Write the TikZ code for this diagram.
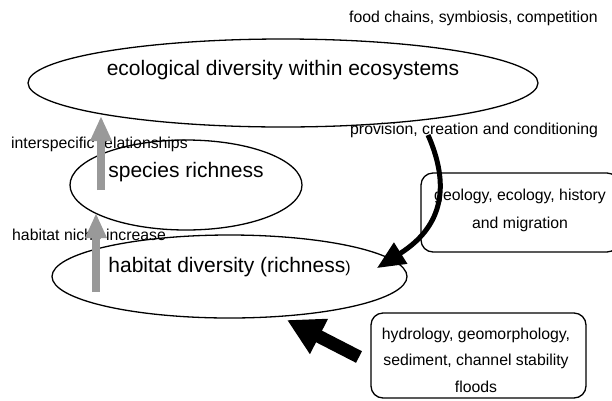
\documentclass[tikz,border=0pt]{standalone}
\usepackage{fontspec}
\setmainfont{Liberation Sans}
\usetikzlibrary{shapes.geometric, arrows.meta}

\begin{document}
\begin{tikzpicture}[x=1pt, y=-1pt,
    level/.style={draw, ellipse, line width=1.3pt, inner sep=0pt},
    factor/.style={draw, rounded corners=12pt, line width=1.3pt, inner sep=0pt},
    big/.style={font=\fontsize{21}{25}\selectfont, inner sep=0pt},
    note/.style={font=\fontsize{15.8}{19}\selectfont, inner sep=0pt},
    rise/.style={draw=black!40, line width=7.5pt, -{Triangle[width=20pt,length=25pt]}},
    feed/.style={draw=black, line width=5pt, -{Triangle[width=24pt,length=28pt]}},
    push/.style={draw=black, line width=13pt, -{Triangle[width=37pt,length=36pt]}}]
    \useasboundingbox (0,0) rectangle (612,400);
    \clip (0,0) rectangle (612,400);

    % levels
    \node[level, minimum width=510pt, minimum height=88pt] (eco) at (283,83) {};
    \node[level, minimum width=232pt, minimum height=90pt] (species) at (186,185) {};
    \node[level, minimum width=355pt, minimum height=83pt] (habitat) at (229.5,276.5) {};
    \node[big, anchor=base] (ecotext) at ([yshift=8pt]eco.center) {ecological diversity within ecosystems};
    \node[big, anchor=base] (speciestext) at ([yshift=8pt]species.center) {species richness};
    \node[big, anchor=base] (habitattext) at ([yshift=4.5pt]habitat.center) {habitat diversity (richness{\fontsize{15.8}{19}\selectfont )}};

    % driving factors
    \node[factor, minimum width=198pt, minimum height=79pt] (geo) at (520,212.5) {};
    \node[note, align=center, font=\fontsize{15.8}{28}\selectfont] (geotext) at (520,210) {geology, ecology, history\\and migration};
    \node[factor, minimum width=215pt, minimum height=85pt] (hydro) at (478.5,355.5) {};
    \node[note, align=center, font=\fontsize{15.8}{26.5}\selectfont] (hydrotext) at (476,360) {hydrology, geomorphology,\\sediment, channel stability\\floods};

    % labels
    \node[note, anchor=base west] (foodtext) at (349,22) {food chains, symbiosis, competition};
    \node[note, anchor=base west] (intertext) at (11,148) {interspecific relationships};
    \node[note, anchor=base west] (provtext) at (350,134) {provision, creation and conditioning};
    \node[note, anchor=base west] (nichetext) at (12,240) {habitat niche increase};

    % arrows
    \coordinate (rise1) at (101,190);
    \coordinate (reach1) at (101,116);
    \coordinate (rise2) at (96,292);
    \coordinate (reach2) at (96,213);
    \coordinate (flowsrc) at (428,135);
    \coordinate (flowdst) at (377,268);
    \coordinate (pushsrc) at (359,357);
    \coordinate (pushdst) at (287,320);

    \draw[rise] (rise1) -- (reach1);
    \draw[rise] (rise2) -- (reach2);
    \draw[feed] (flowsrc) .. controls (446,176) and (450,222) .. (flowdst);
    \draw[push] (pushsrc) -- (pushdst);
\end{tikzpicture}
\end{document}
